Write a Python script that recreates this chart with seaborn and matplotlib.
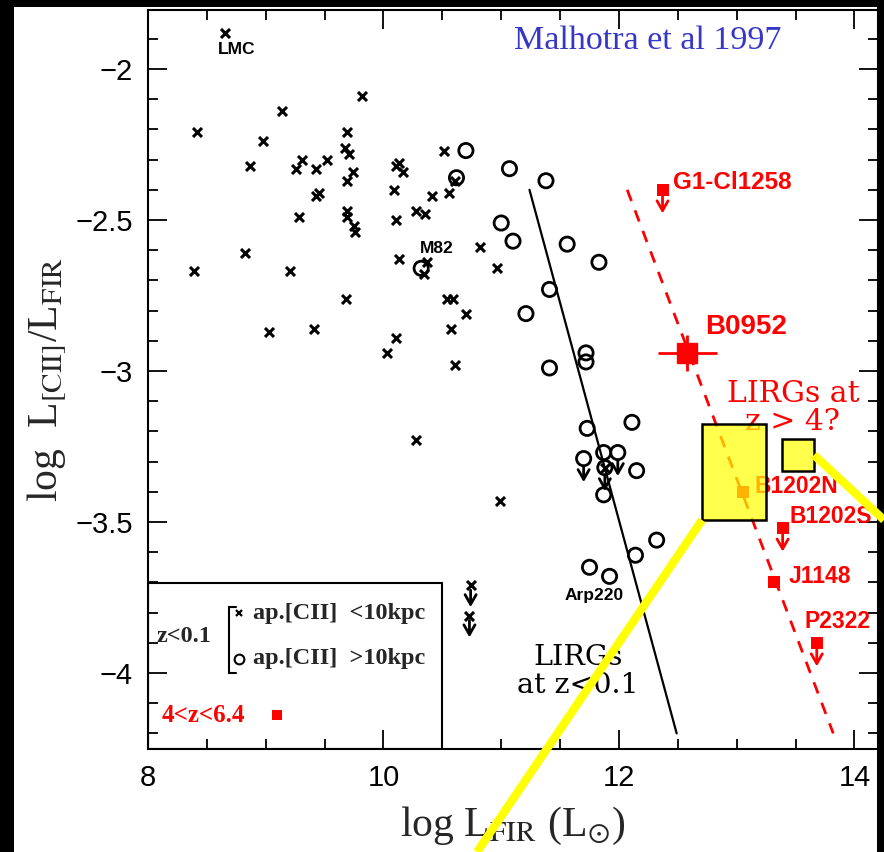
import numpy as np
import pandas as pd
import matplotlib
matplotlib.use("Agg")
import matplotlib.pyplot as plt
import seaborn as sns
from matplotlib.patches import Rectangle
from matplotlib.lines import Line2D
from matplotlib.ticker import MultipleLocator

# ---------------- data ----------------
cross_x = [8.65, 8.42, 9.14, 9.82, 8.98, 8.87, 9.26, 9.31, 9.43, 9.52,
           9.69, 9.67, 9.71, 9.74, 9.69, 9.43, 9.45, 9.28, 9.69, 9.69,
           9.75, 9.76, 8.82, 8.39, 9.21, 9.68, 10.09, 10.11, 10.13, 10.13,
           10.11, 10.17, 10.51, 10.41, 10.28, 10.35, 10.56, 10.37, 10.34, 10.82,
           10.96, 10.54, 10.59, 10.70, 9.41, 9.03, 10.57, 10.11, 10.03, 10.61,
           10.28, 10.99, 10.61, 11.88]
cross_y = [-1.88, -2.21, -2.14, -2.09, -2.24, -2.32, -2.33, -2.30, -2.33, -2.30,
           -2.21, -2.26, -2.28, -2.34, -2.37, -2.42, -2.41, -2.49, -2.47, -2.49,
           -2.52, -2.54, -2.61, -2.67, -2.67, -2.76, -2.40, -2.50, -2.63, -2.31,
           -2.32, -2.34, -2.27, -2.42, -2.47, -2.48, -2.41, -2.64, -2.68, -2.59,
           -2.66, -2.76, -2.76, -2.81, -2.86, -2.87, -2.86, -2.89, -2.94, -2.98,
           -3.23, -3.43, -2.37, -3.32]
cross_lim_x = [10.74, 10.73]
cross_lim_y = [-3.71, -3.81]

circ_x = [10.70, 11.07, 10.62, 11.38, 11.00, 11.10, 11.56, 11.83, 11.41, 11.21,
          10.32, 11.72, 11.72, 11.41, 11.73, 12.11, 11.87, 12.15, 11.87, 12.32,
          12.14, 11.75, 11.92]
circ_y = [-2.27, -2.33, -2.36, -2.37, -2.51, -2.57, -2.58, -2.64, -2.73, -2.81,
          -2.66, -2.94, -2.97, -2.99, -3.19, -3.17, -3.27, -3.33, -3.41, -3.56,
          -3.61, -3.65, -3.68]
circ_lim_x = [11.70, 11.99, 11.88]
circ_lim_y = [-3.29, -3.27, -3.32]

hiz_names = ["G1-Cl1258", "B0952", "B1202N", "B1202S", "J1148", "P2322"]
hiz_x = [12.37, 12.58, 13.05, 13.39, 13.32, 13.68]
hiz_y = [-2.40, -2.94, -3.40, -3.52, -3.70, -3.90]
hiz_limit = [True, False, False, True, False, True]
hiz_label_x = [12.46, 12.73, 13.15, 13.45, 13.44, 13.58]
hiz_label_y = [-2.377, -2.854, -3.381, -3.483, -3.679, -3.831]
b0952_xerr = 0.25
b0952_yerr = 0.06

local_fit_x = [11.24, 12.49]
local_fit_y = [-2.40, -4.20]
hiz_fit_x = [12.07, 13.82]
hiz_fit_y = [-2.40, -4.20]

galaxy_names = ["LMC", "M82", "Arp220"]
galaxy_label_x = [8.75, 10.45, 11.79]
galaxy_label_y = [-1.934, -2.593, -3.745]

xtick_vals = [8, 10, 12, 14]
xtick_labels = ["8", "10", "12", "14"]
ytick_vals = [-2, -2.5, -3, -3.5, -4]
ytick_labels = ["\u22122", "\u22122.5", "\u22123", "\u22123.5", "\u22124"]

zoom_box_x = [12.705, 13.248]
zoom_box_y = [-3.493, -3.175]
zoom_small_x = [13.384, 13.656]
zoom_small_y = [-3.331, -3.225]

# ---------------- style ----------------
sns.set_theme(style="ticks")
plt.rcParams["font.family"] = ["Liberation Sans", "DejaVu Sans"]
plt.rcParams["mathtext.fontset"] = "stix"
plt.rcParams["axes.linewidth"] = 1.5

W, H = 884, 852
fig = plt.figure(figsize=(W / 100, H / 100), dpi=100)
fig.patch.set_facecolor("white")
ax = fig.add_axes([148 / W, 103 / H, 730 / W, 739 / H])
ax.set_facecolor("white")

# lines
sns.lineplot(x=local_fit_x, y=local_fit_y, color="black", linewidth=1.6, ax=ax, zorder=2)
sns.lineplot(x=hiz_fit_x, y=hiz_fit_y, color="red", linewidth=2.0,
             linestyle=(0, (4.3, 3.6)), ax=ax, zorder=2)

# local galaxies
sns.scatterplot(x=cross_x + cross_lim_x, y=cross_y + cross_lim_y, marker="x", s=42,
                color="black", linewidth=2.2, ax=ax, zorder=4)
sns.scatterplot(x=circ_x + circ_lim_x, y=circ_y + circ_lim_y, marker="o", s=105,
                facecolor="none", edgecolor="black", linewidth=2.0, ax=ax, zorder=4)

def down_arrow(x, y, c, top=0.02, bot=0.078):
    ax.annotate("", xy=(x, y - bot), xytext=(x, y - top),
                arrowprops=dict(arrowstyle="->,head_length=0.35,head_width=0.2",
                                lw=2.0, color=c, shrinkA=0, shrinkB=0,
                                mutation_scale=20), zorder=4)

for x, y in zip(cross_lim_x, cross_lim_y):
    down_arrow(x, y, "black", 0.016, 0.072)
for x, y in zip(circ_lim_x, circ_lim_y):
    down_arrow(x, y, "black", 0.025, 0.078)

# high-z sources
small = [i for i, n in enumerate(hiz_names) if n != "B0952"]
sns.scatterplot(x=[hiz_x[i] for i in small], y=[hiz_y[i] for i in small], marker="s",
                s=80, color="red", linewidth=0, ax=ax, zorder=4)
ib = hiz_names.index("B0952")
ax.errorbar(hiz_x[ib], hiz_y[ib], xerr=b0952_xerr, yerr=b0952_yerr, fmt="s", ms=14,
            color="red", elinewidth=2, capsize=0, zorder=4)
for i, n in enumerate(hiz_names):
    if hiz_limit[i]:
        down_arrow(hiz_x[i], hiz_y[i], "red", 0.018, 0.078)
    fs = 20 if n == "B0952" else (17.5 if n == "G1-Cl1258" else 16.5)
    ax.text(hiz_label_x[i], hiz_label_y[i], n, color="red", fontsize=fs,
            fontweight="bold", ha="left", va="center", zorder=3)

for n, x, y in zip(galaxy_names, galaxy_label_x, galaxy_label_y):
    ax.text(x, y, n, fontsize=12.5, fontweight="bold", ha="center", va="center",
            color="black", zorder=5)

ax.text(13.478, -3.121, "LIRGs at\nz > 4?", color="red", fontsize=21.5,
        family="DejaVu Serif", ha="center", va="center", linespacing=1.0, zorder=3)
ax.text(11.652, -3.995, "LIRGs\nat z<0.1", color="black", fontsize=20.5,
        family="DejaVu Serif", ha="center", va="center", linespacing=1.05, zorder=3)
ax.text(12.246, -1.907, "Malhotra et al 1997", color="#3636C8", fontsize=24.5,
        family="Liberation Serif", ha="center", va="center", zorder=3)

# yellow zoom boxes
yel = (1.0, 1.0, 0.0, 0.70)
ax.add_patch(Rectangle((zoom_box_x[0], zoom_box_y[0]), zoom_box_x[1] - zoom_box_x[0],
                       zoom_box_y[1] - zoom_box_y[0], facecolor=yel, edgecolor="black",
                       linewidth=1.8, zorder=6))
ax.add_patch(Rectangle((zoom_small_x[0], zoom_small_y[0]), zoom_small_x[1] - zoom_small_x[0],
                       zoom_small_y[1] - zoom_small_y[0], facecolor=yel, edgecolor="black",
                       linewidth=1.8, zorder=6))

# legend box
T = ax.transAxes
ax.add_patch(Rectangle((0, 0), 0.4027, 0.2246, transform=T, facecolor="none",
                       edgecolor="black", linewidth=1.5, zorder=5))
ax.text(0.0123, 0.1516, "z<0.1", transform=T, fontsize=17.5, fontweight="bold",
        family="Liberation Serif", ha="left", va="center")
ax.plot([0.1205, 0.111, 0.111, 0.1205], [0.1922, 0.1922, 0.1028, 0.1028], transform=T,
        color="black", lw=1.5, solid_joinstyle="miter")
ax.plot([0.1247], [0.184], transform=T, marker="x", ms=5, mew=1.6, color="black", ls="none")
ax.plot([0.1247], [0.1218], transform=T, marker="o", ms=7, mew=1.5, mfc="none",
        color="black", ls="none")
ax.text(0.1438, 0.184, "ap.[CII]  <10kpc", transform=T, fontsize=17.5, fontweight="bold",
        family="Liberation Serif", ha="left", va="center")
ax.text(0.1438, 0.1218, "ap.[CII]  >10kpc", transform=T, fontsize=17.5, fontweight="bold",
        family="Liberation Serif", ha="left", va="center")
ax.text(0.0192, 0.046, "4<z<6.4", transform=T, fontsize=18, fontweight="bold",
        family="Liberation Serif", color="red", ha="left", va="center")
ax.plot([0.1767], [0.046], transform=T, marker="s", ms=7.5, color="red", mew=0, ls="none")

# axes
ax.set_xlim(8, 14.2)
ax.set_ylim(-4.2517, -1.8046)
ax.set_xticks(xtick_vals)
ax.set_xticklabels(xtick_labels)
ax.set_yticks(ytick_vals)
ax.set_yticklabels(ytick_labels)
ax.xaxis.set_minor_locator(MultipleLocator(0.5))
ax.yaxis.set_minor_locator(MultipleLocator(0.1))
ax.tick_params(which="both", direction="in", top=True, right=True, width=1.3,
               colors="black", labelsize=21)
ax.tick_params(which="major", length=14, pad=11)
ax.tick_params(which="minor", length=7)
for s in ax.spines.values():
    s.set_linewidth(1.5)
    s.set_color("black")

ax.set_xlabel(r"log L$_{\mathrm{FIR}}$ (L$_{\odot}$)", fontsize=30,
              family="Liberation Serif", labelpad=9)
ax.set_ylabel(r"log  L$_{\mathrm{[CII]}}$/L$_{\mathrm{FIR}}$", fontsize=30,
              family="Liberation Serif", labelpad=6)

# overlay: yellow connector lines and black frame
fig.add_artist(Line2D([702 / W, 477 / W], [1 - 520 / H, 0.0], color="#FFFF00", lw=6,
                      zorder=20, solid_capstyle="butt"))
fig.add_artist(Line2D([814 / W, 1.0], [1 - 455 / H, 1 - 520 / H], color="#FFFF00", lw=6,
                      zorder=20, solid_capstyle="butt"))
for (x0, y0, w, h) in [(0, 0, 14 / W, 1), (0, 1 - 7 / H, 1, 7 / H), (877 / W, 0, 7 / W, 1)]:
    fig.add_artist(Rectangle((x0, y0), w, h, transform=fig.transFigure, facecolor="black",
                             edgecolor="none", zorder=19))

fig.savefig("out.png", dpi=100)
